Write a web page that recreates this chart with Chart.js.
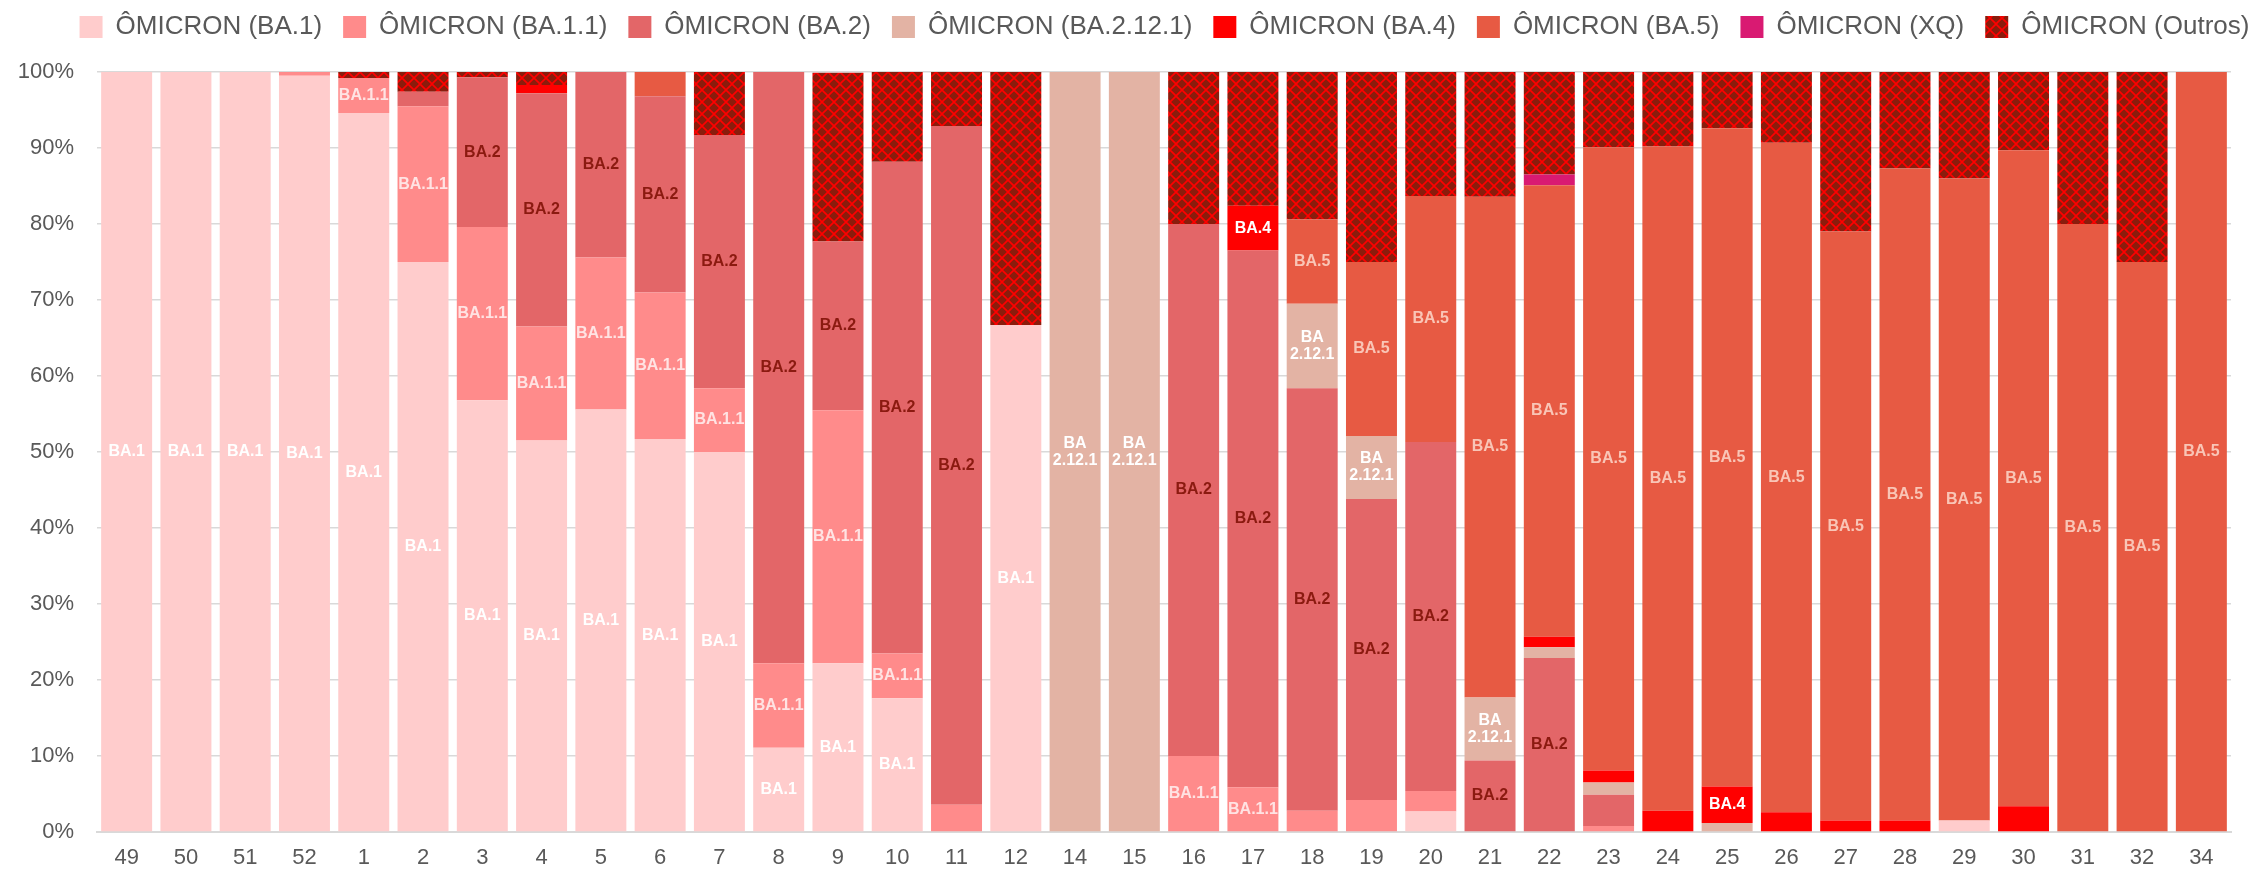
<!DOCTYPE html>
<html>
<head>
<meta charset="utf-8" />
<title>Ômicron linhagens por semana</title>
<script src="https://cdn.jsdelivr.net/npm/chart.js@4.4.1/dist/chart.umd.min.js"></script>
<style>
  html, body { margin: 0; padding: 0; background: #fff; }
  #wrap { width: 2257px; height: 876px; }
</style>
</head>
<body>
<div id="wrap"><canvas id="myChart" width="2257" height="876"></canvas></div>
<script>
// semanas epidemiologicas
var weeks = ['49','50','51','52','1','2','3','4','5','6','7','8','9','10','11','12','14','15',
             '16','17','18','19','20','21','22','23','24','25','26','27','28','29','30','31','32','34'];

// % de cada linhagem por semana
var ba1     = [100,100,100,99.5,94.6,75.0,56.8,51.5,55.6,51.7,50.0,11.1,22.2,17.6,0,66.7,0,0,
               0,0,0,0,2.7,0,0,0,0,0,0,0,0,1.5,0,0,0,0];
var ba11    = [0,0,0,0.5,4.6,20.5,22.8,15.0,20.0,19.3,8.4,11.1,33.3,5.9,3.6,0,0,0,
               10.0,5.9,2.8,4.2,2.7,0,0,0.8,0,0,0,0,0,0,0,0,0,0];
var ba2     = [0,0,0,0,0,1.9,19.7,30.7,24.4,25.8,33.3,77.8,22.2,64.7,89.3,0,0,0,
               70.0,70.6,55.6,39.6,45.9,9.4,22.9,4.1,0,0,0,0,0,0,0,0,0,0];
var ba2121  = [0,0,0,0,0,0,0,0,0,0,0,0,0,0,0,0,100,100,
               0,0,11.1,8.3,0,8.3,1.4,1.6,0,1.2,0,0,0,0,0,0,0,0];
var ba4     = [0,0,0,0,0,0,0,1.1,0,0,0,0,0,0,0,0,0,0,
               0,5.9,0,0,0,0,1.4,1.6,2.8,4.8,2.6,1.5,1.5,0,3.4,0,0,0];
var ba5     = [0,0,0,0,0,0,0,0,0,3.2,0,0,0,0,0,0,0,0,
               0,0,11.1,22.9,32.4,65.9,59.4,82.0,87.4,86.6,88.1,77.5,85.8,84.5,86.3,80.0,75.0,100];
var xq      = [0,0,0,0,0,0,0,0,0,0,0,0,0,0,0,0,0,0,
               0,0,0,0,0,0,1.4,0,0,0,0,0,0,0,0,0,0,0];
var outros  = [0,0,0,0,0.8,2.6,0.7,1.7,0,0,8.3,0,22.2,11.8,7.1,33.3,0,0,
               20.0,17.6,19.4,25.0,16.3,16.4,13.5,9.9,9.8,7.4,9.3,21.0,12.7,14.0,10.3,20.0,25.0,0];

var yTicks = [0,10,20,30,40,50,60,70,80,90,100];

var FONT = '"Liberation Sans", Arial, sans-serif';
var TXT = '#595959';

// hachura "Outros": fundo vinho com losangos vermelhos
function hatch() {
  var c = document.createElement('canvas');
  c.width = 12; c.height = 12;
  var g = c.getContext('2d');
  g.fillStyle = '#8b1c0c';
  g.fillRect(0, 0, 12, 12);
  g.strokeStyle = '#ff0000';
  g.lineWidth = 1.6;
  g.beginPath();
  g.moveTo(0, 0); g.lineTo(12, 12);
  g.moveTo(12, 0); g.lineTo(0, 12);
  g.stroke();
  return document.getElementById('myChart').getContext('2d').createPattern(c, 'repeat');
}

var segText  = ['BA.1', 'BA.1.1', 'BA.2', 'BA\n2.12.1', 'BA.4', 'BA.5', null, null];
var segColor = ['#ffffff', '#ffe3e3', '#8b1a10', '#ffffff', '#ffffff', '#f9c5b6', null, null];

var segLabels = {
  id: 'segLabels',
  beforeLayout: function(chart) {
    // legenda mais alta (empurra o grafico) e um pouco deslocada para a direita
    var lg = chart.legend;
    if (lg && !lg._fixed) {
      var fit = lg.fit, draw = lg.draw;
      lg.fit = function() { fit.call(this); this.height = 79; };
      lg.draw = function() {
        this.ctx.save();
        this.ctx.translate(40, 0);
        draw.call(this);
        this.ctx.restore();
      };
      lg._fixed = true;
    }
  },
  afterDatasetsDraw: function(chart) {
    var ctx = chart.ctx;
    chart.data.datasets.forEach(function(ds, i) {
      if (!segText[i]) return;
      var meta = chart.getDatasetMeta(i);
      meta.data.forEach(function(bar, j) {
        if (ds.data[j] < 4.5) return;
        var cy = (bar.y + bar.base) / 2;
        var lines = segText[i].split('\n');
        ctx.save();
        ctx.font = 'bold 16px ' + FONT;
        ctx.fillStyle = segColor[i];
        ctx.textAlign = 'center';
        ctx.textBaseline = 'middle';
        var lh = 17;
        var y0 = cy - (lines.length - 1) * lh / 2;
        lines.forEach(function(t, k) { ctx.fillText(t, bar.x, y0 + k * lh); });
        ctx.restore();
      });
    });
  }
};

var ctx = document.getElementById('myChart');
var myChart = new Chart(ctx, {
  type: 'bar',
  data: {
    labels: weeks,
    datasets: [
      { label: 'ÔMICRON (BA.1)',    data: ba1,    backgroundColor: '#ffcccc' },
      { label: 'ÔMICRON (BA.1.1)',  data: ba11,   backgroundColor: '#ff8b8b' },
      { label: 'ÔMICRON (BA.2)',    data: ba2,    backgroundColor: '#e36668' },
      { label: 'ÔMICRON (BA.2.12.1)', data: ba2121, backgroundColor: '#e3b3a4' },
      { label: 'ÔMICRON (BA.4)',    data: ba4,    backgroundColor: '#ff0000' },
      { label: 'ÔMICRON (BA.5)',    data: ba5,    backgroundColor: '#e75a43' },
      { label: 'ÔMICRON (XQ)',      data: xq,     backgroundColor: '#d91a72' },
      { label: 'ÔMICRON (Outros)',  data: outros, backgroundColor: hatch() }
    ]
  },
  options: {
    responsive: false,
    animation: false,
    layout: { padding: { top: -7, left: 18, right: 26, bottom: 0 } },
    datasets: { bar: { barPercentage: 0.86, categoryPercentage: 1.0, borderWidth: 0 } },
    plugins: {
      legend: {
        position: 'top',
        labels: {
          font: { family: FONT, size: 26 },
          color: TXT,
          boxWidth: 23,
          boxHeight: 22,
          padding: 21
        }
      },
      tooltip: { enabled: false }
    },
    scales: {
      x: {
        stacked: true,
        afterFit: function(axis) { axis.height = 44; },
        grid: { display: false, drawTicks: false },
        border: { display: true, color: '#d9d9d9', width: 2 },
        ticks: { font: { family: FONT, size: 22 }, color: TXT, padding: 13, maxRotation: 0, autoSkip: false }
      },
      y: {
        stacked: true,
        min: 0,
        max: 100,
        afterFit: function(axis) { axis.width = 79; },
        afterBuildTicks: function(axis) { axis.ticks = yTicks.map(function(v) { return { value: v }; }); },
        grid: { color: '#d9d9d9', lineWidth: 1.5, drawTicks: false },
        border: { display: false },
        ticks: {
          font: { family: FONT, size: 22 },
          color: TXT,
          padding: 23,
          callback: function(v) { return v + '%'; }
        }
      }
    }
  },
  plugins: [segLabels]
});
</script>
</body>
</html>
